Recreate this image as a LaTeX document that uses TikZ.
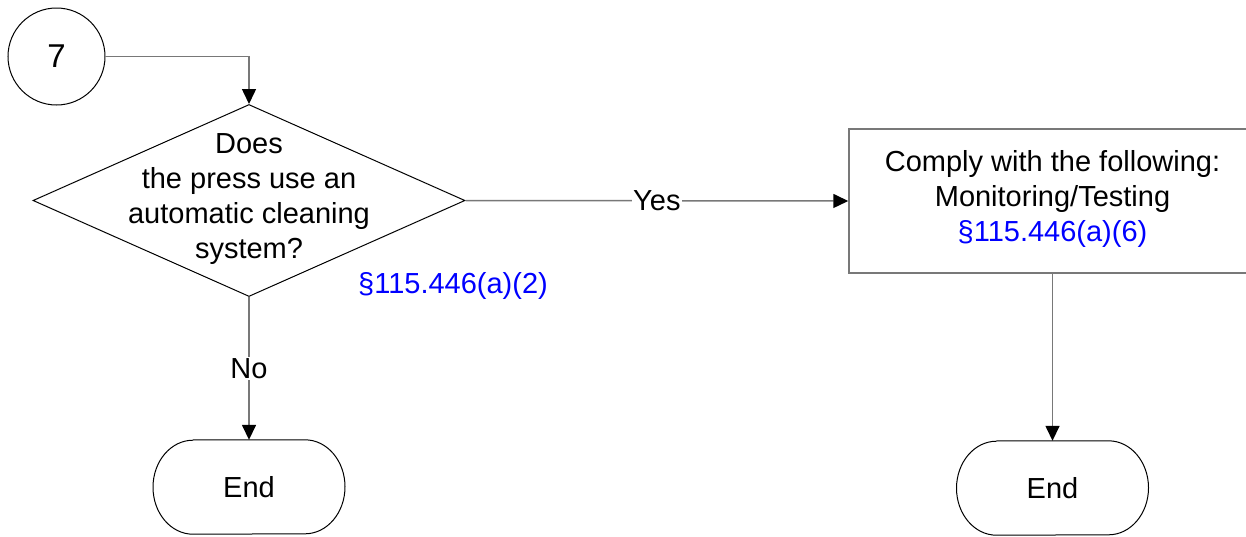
\documentclass[tikz,border=0pt]{standalone}
\usepackage{fontspec}
\setmainfont{Liberation Sans}
\usetikzlibrary{arrows.meta,shapes.geometric}
\definecolor{refblue}{RGB}{0,0,255}
\definecolor{conngray}{RGB}{120,120,120}
\tikzset{
  shapeline/.style={draw=black, line width=1pt},
  conn/.style={draw=conngray, line width=1.5pt, -{Triangle[length=15pt,width=14pt,fill=black,color=black]}},
  txt/.style={font=\fontsize{29}{35}\selectfont, align=center, inner sep=0pt},
  lbl/.style={font=\fontsize{29}{35}\selectfont, fill=white, inner sep=1pt},
  reftxt/.style={txt, text=refblue},
}
\begin{document}
\begin{tikzpicture}[x=1pt,y=-1pt]
\useasboundingbox (0,0) rectangle (1246,536);
\clip (0,0) rectangle (1246,536);
\fill[white] (0,0) rectangle (1246,536);

% start connector circle
\node[circle, shapeline, minimum size=97pt, inner sep=0pt, font=\fontsize{33}{38}\selectfont] (c7) at (56.5,56.5) {7};

% decision diamond
\node[diamond, shapeline, minimum width=432pt, minimum height=192pt, inner sep=0pt] (q) at (249,200.5) {};
\node[txt] (qtext) at (249,199) {Does\\the press use an\\automatic cleaning\\system?};
\node[reftxt] (qref) at (453,286) {\S115.446(a)(2)};

% action box
\node[draw=conngray, line width=1.5pt, minimum width=407pt, minimum height=144pt, inner sep=0pt] (box) at (1052.5,201) {};
\node[txt] (boxtext) at (1052.5,199) {Comply with the following:\\Monitoring/Testing\\\textcolor{refblue}{\S115.446(a)(6)}};

% terminators
\node[minimum width=192pt, minimum height=94pt, inner sep=0pt, txt] (end1) at (249,487) {End};
\node[minimum width=193pt, minimum height=94pt, inner sep=0pt, txt] (end2) at (1052.5,488) {End};
\draw[shapeline] ([xshift=-56pt]end1.north) -- ([xshift=56pt]end1.north)
  arc[start angle=90,end angle=-90,x radius=40pt,y radius=47pt]
  -- ([xshift=-56pt]end1.south)
  arc[start angle=270,end angle=90,x radius=40pt,y radius=47pt];
\draw[shapeline] ([xshift=-56pt]end2.north) -- ([xshift=56pt]end2.north)
  arc[start angle=90,end angle=-90,x radius=40pt,y radius=47pt]
  -- ([xshift=-56pt]end2.south)
  arc[start angle=270,end angle=90,x radius=40pt,y radius=47pt];

% connectors
\draw[conn] (c7.east) -| (q.north);
\draw[conn] (q.east) -- node[lbl] {Yes} (box.west);
\draw[conn] (q.south) -- node[lbl] {No} (end1.north);
\draw[conn] (box.south) -- (end2.north);
\end{tikzpicture}
\end{document}
